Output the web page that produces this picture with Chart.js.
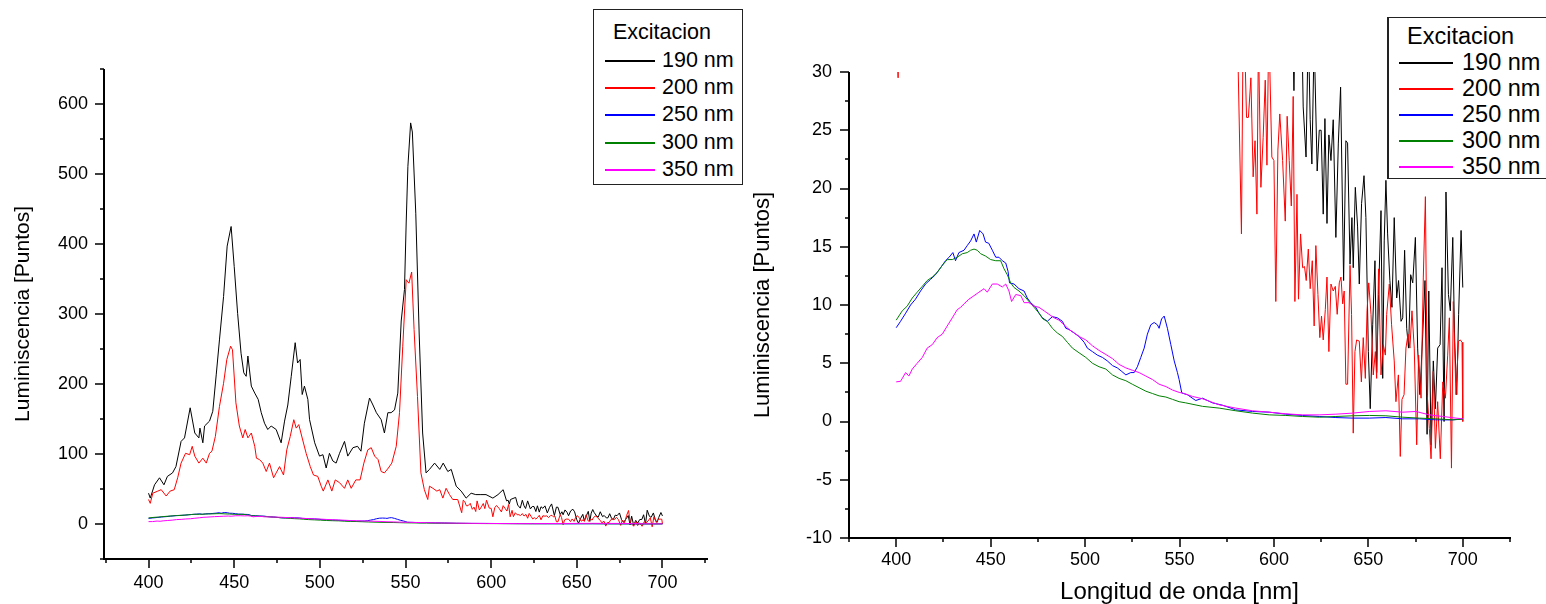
<!DOCTYPE html>
<html>
<head>
<meta charset="utf-8">
<title>Luminiscencia</title>
<script src="https://cdn.jsdelivr.net/npm/chart.js"></script>
<style>
  html, body { margin: 0; padding: 0; background: #fff; }
  body { position: relative; width: 1546px; height: 604px; overflow: hidden;
         font-family: "Liberation Sans", Arial, sans-serif; color: #000; }
  canvas { position: absolute; top: 0; }
  #leftChart { left: 0; }
  #rightChart { left: 745px; }
  .legend { position: absolute; background: #fff; border: 1px solid #222; box-sizing: border-box; }
  .legend div { position: absolute; white-space: nowrap; line-height: 1; }
  .legend .swatch { height: 2px; }
</style>
</head>
<body>
<canvas id="leftChart" width="750" height="604"></canvas>
<canvas id="rightChart" width="801" height="604"></canvas>
<div class="legend" id="legendLeft" style="left:593px; top:9px; width:150px; height:176px;"></div>
<div class="legend" id="legendRight" style="left:1387px; top:17px; width:200px; height:162px; border-left-width:2px;"></div>

<script>
//! =============== Data ====================================== //
const xTickLabels = [400, 450, 500, 550, 600, 650, 700];
const yTickLabelsLeft = [0, 100, 200, 300, 400, 500, 600];
const yTickLabelsRight = [-10, -5, 0, 5, 10, 15, 20, 25, 30];
const excitation = ['190 nm', '200 nm', '250 nm', '300 nm', '350 nm'];
const colors = ['#000000', '#ff0000', '#0000ff', '#008000', '#ff00ff'];

// 190 nm
const wl190 = [
  400, 401, 403.5, 406.4, 409, 411, 414, 416, 419, 421,
  424.3, 427, 429.4, 430, 431.7, 432.7, 435.6, 437.5, 439.5, 441.4,
  443.8, 445.9, 448.2, 450, 452, 454, 455.6, 457, 458, 460,
  462, 464, 465.8, 467.7, 469.6, 471.6, 474.5, 477.4, 479.4, 481.3,
  483.3, 485.6, 487, 488.5, 489.7, 491, 493, 494, 497, 499.8,
  501.8, 503.7, 505.6, 507.6, 509.5, 511.5, 514.4, 516.3, 519.3, 522,
  524, 526, 529, 531, 533, 535.8, 537.7, 539.7, 541.6, 543.6,
  545.5, 547.5, 549.4, 550.4, 551.4, 553, 554, 556, 558, 560,
  562, 564, 567, 570, 572, 574.7, 576.7, 579.6, 582.5, 585.4,
  588.3, 591, 594, 597, 601, 604, 607, 609, 609.9, 610.6,
  611.3, 614.3, 615.5, 617, 618.2, 619.2, 620.1, 621.3, 622.9, 624,
  625, 626.1, 627, 628.1, 629.1, 630.2, 631.4, 632.8, 634.1, 635.3,
  636.9, 638.1, 639, 640.3, 641.3, 642, 643.1, 644.3, 645.2, 646.4,
  647.7, 648.7, 650, 651, 652.3, 653.5, 654.4, 655.4, 656.7, 657.6,
  658.4, 659.3, 660.2, 661.4, 662.5, 663.7, 665, 666, 667.3, 668.2,
  669.2, 670.3, 671.3, 672.4, 673.5, 674.9, 676.1, 677.3, 678.8, 680,
  681.1, 682, 683.2, 684.4, 685.5, 686.7, 688, 689, 690.1, 691.1,
  692.4, 693.4, 694.7, 695.7, 696.8, 697.8, 699.1, 700
];
const lum190 = [
  44, 37, 56, 66, 56, 68, 73, 82, 118, 123,
  166, 130, 123, 137, 116, 140, 147, 161, 213, 263,
  325, 397, 425, 368, 301, 244, 216, 211, 240, 197,
  187, 178, 159, 144, 135, 140, 135, 116, 147, 170,
  211, 259, 230, 235, 185, 197, 178, 149, 116, 97,
  99, 80, 101, 90, 87, 101, 118, 97, 109, 111,
  104, 144, 180, 170, 159, 149, 130, 159, 159, 163,
  187, 290, 335, 430, 511, 573, 560, 444, 270, 130,
  73, 78, 87, 78, 87, 75, 78, 54, 47, 37,
  44, 42, 42, 42, 37, 42, 49, 33, 34, 28.4,
  35, 38, 27, 22.7, 34, 25.9, 22.1, 33, 21.5, 25,
  25, 17.8, 26, 17, 24.6, 22.4, 25.9, 15.8, 23.9, 28.7,
  12.1, 24.1, 23.9, 13.5, 17.5, 13.2, 20.1, 16.7, 11.8, 18.7,
  21.1, 17.5, 6, 1.1, 8.3, 13.8, 4.2, 10.9, 18.1, 3.7,
  15.5, 20.7, 16.1, 12.1, 9.8, 17.5, 10.6, 12.1, 8.6, 8.9,
  14.7, 8, 6.3, 12.6, 11.9, 15.8, 6.3, 2.3, 7.5, 12.1,
  -1.1, 11.2, -2, 5.2, 1.1, 6.3, 6.6, 13.2, 0, 19.7,
  10.9, 9.5, 15.8, 6.9, 2.3, 9.2, 16.4, 11.5
];

// 200 nm
const wl200 = [
  400, 401, 402.5, 405.4, 407.4, 410.3, 412.6, 415, 417, 419,
  421.6, 424, 425.5, 427, 429.4, 431.7, 433.7, 435.6, 437, 439,
  441.4, 443.8, 445.7, 447.9, 449, 451, 453, 455, 456.4, 458,
  460, 462, 463, 464.8, 466.7, 468.7, 470.6, 473, 474.5, 476.5,
  478.8, 480.7, 482.7, 484.8, 486.2, 487.7, 490, 492, 494.4, 496.3,
  498.8, 500.8, 502, 504.7, 507, 509, 511.5, 514.4, 516.3, 518.3,
  521, 523.5, 525.7, 528, 530, 532, 534, 535.8, 537.7, 540,
  542, 544.6, 546.5, 548.4, 550.4, 552, 553.6, 555, 557, 559,
  561, 563, 564, 566, 568.3, 570, 571.8, 573.7, 575.7, 577.6,
  580.5, 582.8, 583.7, 584.6, 585.5, 586.5, 587.8, 589, 590, 591,
  591.8, 593.1, 594.3, 595.4, 596.3, 597.3, 598.9, 600, 601, 602.1,
  603.1, 604.6, 606, 607, 608.1, 609.2, 610.2, 611.1, 612.2, 613,
  614.1, 615.2, 616.2, 617.1, 618.2, 619.2, 620.3, 621.3, 622.2, 623.3,
  624.3, 625.2, 626.1, 627.2, 628.1, 629.1, 630.2, 631.4, 632.5, 633.5,
  634.6, 635.5, 636.4, 637.2, 638.1, 639, 640.3, 641.1, 642, 642.9,
  643.8, 645.2, 646.3, 647.3, 648.4, 649.3, 650.2, 651.4, 652.6, 653.7,
  654.4, 655.4, 656.7, 657.9, 659, 659.7, 661.1, 662.3, 663.7, 664.6,
  665.9, 666.9, 667.8, 668.9, 669.9, 671, 672, 673.1, 674.3, 675.6,
  676.6, 677.9, 679.1, 680.2, 681.2, 682.3, 683.2, 684.4, 685.5, 686.7,
  688.1, 689.4, 690.8, 692, 692.9, 694, 695, 696.4, 697.7, 698.7,
  699.6, 700
];
const lum200 = [
  35, 29.5, 44, 47, 49, 40, 47, 49, 66, 87,
  101, 99, 111, 97, 87, 94, 87, 101, 104, 125,
  168, 201, 235, 254, 249, 173, 140, 123, 135, 123,
  130, 111, 94, 92, 87, 75, 87, 66, 73, 82,
  70, 106, 125, 149, 137, 142, 120, 101, 82, 70,
  68, 54, 47, 63, 47, 63, 59, 51, 63, 51,
  63, 63, 87, 106, 109, 97, 92, 75, 73, 80,
  87, 111, 159, 254, 349, 344, 360, 278, 182, 73,
  49, 35, 54, 51, 47, 49, 37, 51, 42, 35,
  35, 16.1, 34, 32, 26.1, 26.1, 29.5, 21, 24.1, 17.8,
  33, 20.1, 24.4, 29.3, 22, 34, 22.7, 22.4, 10.3, 23.3,
  26.4, 22.4, 17.2, 26.2, 22.4, 18.5, 27.9, 10.3, 19.5, 10.5,
  16.1, 13.2, 13.3, 12.1, 14.8, 11.4, 13.8, 8.2, 15.1, 10.9,
  7.2, 9.05, 7, 9.6, 12.4, 6, 11.8, 11.2, 11.6, 9.2,
  11.9, 12.4, 10.1, 11.2, 3.2, 3.2, 13.4, 9.2, -1, 6,
  7, 6.9, 3.4, 7.2, 3.7, 9.5, 11.9, 9.2, 4, 6,
  3.7, 13.1, 4, 6.6, 5.7, 9.2, 11.8, 8.3, 5.2, 1.7,
  4, -3, 1.9, 2.3, 6.3, 7.5, 6.3, 9.5, 6.3, -2,
  5.7, 2, 12.4, 19.3, 2.3, -0.6, -3.2, 4.3, -2.3, 1.7,
  -3.2, 3.4, 2, 5.7, 8.9, -4, 10.3, 2.3, 6.9, 7,
  6.8, 0
];

// 250 nm
const wl250 = [
  400, 402.3, 405, 407.6, 410.2, 412.9, 415.5, 418.2, 420.8, 423.5,
  426.1, 428, 430, 431.4, 433.2, 435.9, 437.6, 439.4, 441.2, 442.4,
  444.2, 446, 447.3, 449, 450.9, 452.7, 454.4, 456.2, 458, 459.2,
  460, 462.4, 465, 467.7, 469.4, 471.2, 473.9, 475.6, 477.4, 480,
  482.7, 485.3, 488, 489.8, 491.5, 494.2, 496.8, 499.5, 501.2, 503.9,
  506.5, 509.2, 511.8, 514.5, 517.1, 519.4, 521.6, 524.2, 526, 527.7,
  529.5, 531.3, 533, 534.8, 536.6, 538.3, 539.2, 540.5, 541.9, 543.6,
  545.4, 547.2, 548.9, 549.8, 551.2, 554.2, 558.6, 562.2, 567.5, 572.8,
  579.8, 588.7, 597.5, 606.3, 615.2, 624, 632.8, 641.7, 650.5, 659.3,
  668.2, 677, 685.8, 694.7, 700
];
const lum250 = [
  8.05, 8.6, 9.3, 10, 10.5, 11.2, 11.8, 12.2, 12.6, 13.2,
  13.8, 14.1, 14.5, 13.8, 14.5, 14.7, 15.1, 15.5, 16.1, 15.4,
  16.4, 16.1, 15.4, 15.3, 14.7, 14.1, 14.1, 13.8, 13.6, 12.9,
  11.9, 11.8, 11.4, 11.2, 10.6, 10.2, 9.8, 9.3, 8.9, 8.6,
  9, 8.9, 8.6, 8, 7.9, 7.6, 7.3, 6.8, 6.3, 6,
  5.7, 5.5, 5.2, 4.8, 4.6, 4.3, 4, 4.2, 4.2, 4.7,
  5.5, 6.3, 7.5, 8.3, 8.5, 8.3, 8, 8.8, 9.05, 8,
  6.6, 5.2, 4.2, 3.6, 2.45, 2.3, 1.8, 2, 1.6, 1.4,
  1, 0.86, 0.8, 0.63, 0.52, 0.43, 0.34, 0.29, 0.29, 0.34,
  0.23, 0.23, 0.14, 0.14, 0.23
];

// 300 nm
const wl300 = [
  400, 403.2, 405.8, 408.5, 411.1, 413.8, 416.4, 419.1, 421.7, 424.4,
  427, 429.7, 432.3, 435, 437.6, 439.4, 441.2, 442.9, 444.7, 447.3,
  450, 452.7, 455.3, 457.1, 458.8, 460.6, 462.4, 465, 467.7, 470.3,
  473, 475.6, 477.7, 480, 482.7, 485.3, 488, 490.6, 493.3, 496.8,
  500.4, 503.9, 507.4, 511, 514.5, 518, 521.6, 525, 528.6, 532.2,
  535.7, 539.2, 542.8, 546.3, 549.8, 553.3, 562.2, 571, 579.8, 588.7,
  597.5, 606.3, 615.2, 624, 632.8, 641.7, 650.5, 659.3, 668.2, 677,
  685.8, 694.7, 700
];
const lum300 = [
  8.7, 9.5, 9.9, 10.6, 11.1, 11.6, 12.1, 12.4, 12.8, 13.4,
  13.9, 13.9, 14.1, 14.4, 14.5, 14.7, 14.8, 14.7, 14.4, 14.2,
  13.9, 13.8, 13.8, 13.1, 12.6, 11.9, 11.5, 11.2, 10.8, 10.3,
  9.8, 9.3, 8.8, 8.6, 8, 7.6, 7.3, 6.8, 6.3, 5.9,
  5.5, 5, 4.7, 4.5, 4, 3.7, 3.5, 3.2, 2.9, 2.6,
  2.4, 2.2, 2.1, 1.9, 1.7, 1.6, 1.3, 1.15, 0.92, 0.72,
  0.57, 0.52, 0.43, 0.37, 0.43, 0.49, 0.52, 0.49, 0.37, 0.29,
  0.23, 0.14, 0.2
];

// 350 nm
const wl350 = [
  400, 402.3, 405, 406.7, 408.5, 411.1, 413.8, 416.4, 419.1, 421.7,
  424.4, 427, 429.7, 432.3, 434.1, 435.9, 438.5, 441.2, 443.8, 446.5,
  448.2, 450.9, 453.5, 456.2, 458, 459.7, 461.1, 463.3, 466, 467.7,
  470.3, 473, 475.6, 478.3, 480.9, 483.6, 486.2, 488.9, 491.5, 494.2,
  496.8, 500.4, 503.9, 507.4, 511, 514.5, 518, 521.6, 525, 528.6,
  532.2, 535.7, 539.2, 542.8, 546.3, 549.8, 551.6, 556.9, 562.2, 571,
  579.8, 588.7, 597.5, 606.3, 615.2, 624, 632.8, 641.7, 650.5, 659.3,
  668.2, 675.2, 682.3, 689.4, 696.4, 700
];
const lum350 = [
  3.4, 3.45, 4.2, 3.9, 4.5, 5, 5.5, 6.3, 6.6, 7.2,
  7.5, 8.2, 8.9, 9.6, 9.8, 10.1, 10.5, 10.8, 11.1, 11.4,
  11.1, 11.8, 11.8, 11.55, 11.8, 11.2, 10.3, 10.9, 10.8, 10.2,
  10.2, 9.9, 9.8, 9.5, 9.2, 8.9, 8.7, 8.3, 7.9, 7.6,
  7.3, 7, 6.5, 6.1, 5.75, 5.4, 4.9, 4.6, 4.4, 4.2,
  3.9, 3.6, 3.2, 3, 2.7, 2.5, 2.44, 2.15, 1.95, 1.43,
  1.15, 0.92, 0.8, 0.66, 0.57, 0.57, 0.63, 0.72, 0.86, 0.92,
  0.8, 0.86, 0.57, 0.43, 0.29, 0.23
];

const series = [[wl190, lum190], [wl200, lum200], [wl250, lum250], [wl300, lum300], [wl350, lum350]];


//! =============== Origin-style axes (axis lines + major/minor ticks) =============== //
function isMajor(v, step) {
  return Math.abs(v / step - Math.round(v / step)) < 1e-6;
}

const originAxes = {
  id: 'originAxes',
  afterDraw(chart, args, o) {
    const { ctx, chartArea: a, scales: { x, y } } = chart;
    ctx.save();
    ctx.strokeStyle = '#000';
    ctx.lineWidth = 2;
    ctx.beginPath();
    ctx.moveTo(a.left, a.top);
    ctx.lineTo(a.left, a.bottom);
    ctx.lineTo(a.right + 1, a.bottom);
    ctx.stroke();

    ctx.lineWidth = 1.5;
    ctx.beginPath();
    for (let v = o.xStart; v <= x.max + 1e-6; v += o.xStep) {
      const p = Math.round(x.getPixelForValue(v));
      const len = isMajor(v, o.xMajor) ? 9 : 4;
      ctx.moveTo(p, a.bottom);
      ctx.lineTo(p, a.bottom + len);
    }
    for (let v = o.yStart; v <= y.max + 1e-6; v += o.yStep) {
      const p = Math.round(y.getPixelForValue(v));
      const len = isMajor(v, o.yMajor) ? 9 : 4;
      ctx.moveTo(a.left, p);
      ctx.lineTo(a.left - len, p);
    }
    ctx.stroke();
    ctx.restore();
  }
};


//! =============== Charts =============== //
const fontFamily = '"Liberation Sans", Arial, sans-serif';

function makeDatasets() {
  return series.map(([wl, lum], i) => ({
    label: excitation[i],
    data: wl.map((x, j) => ({ x: x, y: lum[j] })),
    borderColor: colors[i],
    backgroundColor: colors[i],
    borderWidth: 1,
    pointRadius: 0,
    tension: 0,
    order: 4 - i
  }));
}

function makeChart(id, c) {
  return new Chart(document.getElementById(id), {
    type: 'line',
    data: { datasets: makeDatasets() },
    options: {
      responsive: false,
      animation: false,
      devicePixelRatio: 1,
      layout: { padding: c.padding },
      plugins: {
        legend: { display: false },
        tooltip: { enabled: false },
        originAxes: c.axes
      },
      scales: {
        x: {
          type: 'linear',
          min: c.xMin,
          max: c.xMax,
          grid: { display: false, drawTicks: false },
          border: { display: false },
          ticks: { color: '#000', font: { family: fontFamily, size: 18 }, padding: c.xPad, autoSkip: false, maxRotation: 0 },
          title: c.xTitle,
          afterBuildTicks: s => { s.ticks = xTickLabels.map(v => ({ value: v })); },
          afterFit: s => { s.height = c.xHeight; }
        },
        y: {
          min: c.yMin,
          max: c.yMax,
          grid: { display: false, drawTicks: false },
          border: { display: false },
          ticks: { color: '#000', font: { family: fontFamily, size: 18 }, padding: c.yPad, autoSkip: false },
          title: c.yTitle,
          afterBuildTicks: s => { s.ticks = c.yLabels.map(v => ({ value: v })); },
          afterFit: s => { s.width = 104; }
        }
      }
    },
    plugins: [originAxes]
  });
}

makeChart('leftChart', {
  padding: { top: 69, right: 43, left: 0, bottom: 0 },
  xMin: 374, xMax: 726, yMin: -50, yMax: 650,
  xPad: 13, yPad: 16, xHeight: 45,
  yLabels: yTickLabelsLeft,
  axes: { xStart: 375, xStep: 25, xMajor: 50, yStart: -50, yStep: 50, yMajor: 100 },
  xTitle: { display: false },
  yTitle: { display: true, text: 'Luminiscencia [Puntos]', color: '#000',
            font: { family: fontFamily, size: 21 }, padding: { top: 11, bottom: 0 } }
});

makeChart('rightChart', {
  padding: { top: 72, right: 36, left: 0, bottom: 0 },
  xMin: 375, xMax: 725, yMin: -10, yMax: 30,
  xPad: 11, yPad: 17, xHeight: 66,
  yLabels: yTickLabelsRight,
  axes: { xStart: 375, xStep: 25, xMajor: 50, yStart: -10, yStep: 2.5, yMajor: 5 },
  xTitle: { display: true, text: 'Longitud de onda [nm]', color: '#000',
            font: { family: fontFamily, size: 24, lineHeight: 1 }, padding: { top: 0, bottom: 0 } },
  yTitle: { display: true, text: 'Luminiscencia [Puntos]', color: '#000',
            font: { family: fontFamily, size: 22 }, padding: { top: 5, bottom: 0 } }
});


//! =============== Legends (boxed, Origin style) =============== //
function buildLegend(boxId, o) {
  const box = document.getElementById(boxId);
  const head = document.createElement('div');
  head.textContent = 'Excitacion';
  head.style.cssText = `left:${o.headLeft}px; top:${o.headTop}px; font-size:${o.size}px;`;
  box.appendChild(head);

  excitation.forEach((name, i) => {
    const cy = Math.round(o.firstRow + i * o.rowStep);
    const sw = document.createElement('div');
    sw.className = 'swatch';
    sw.style.cssText = `left:${o.lineLeft}px; top:${cy - 1}px; width:${o.lineWidth}px; background:${colors[i]};`;
    box.appendChild(sw);

    const txt = document.createElement('div');
    txt.textContent = name;
    txt.style.cssText = `left:${o.textLeft}px; top:${cy - o.size / 2}px; font-size:${o.size}px;`;
    box.appendChild(txt);
  });
}

buildLegend('legendLeft', {
  size: 21.5, headLeft: 19, headTop: 12,
  firstRow: 51, rowStep: 27.2, lineLeft: 11, lineWidth: 50, textLeft: 68
});

buildLegend('legendRight', {
  size: 23.5, headLeft: 18, headTop: 7,
  firstRow: 44.5, rowStep: 26.1, lineLeft: 10, lineWidth: 54, textLeft: 73
});
</script>
</body>
</html>
